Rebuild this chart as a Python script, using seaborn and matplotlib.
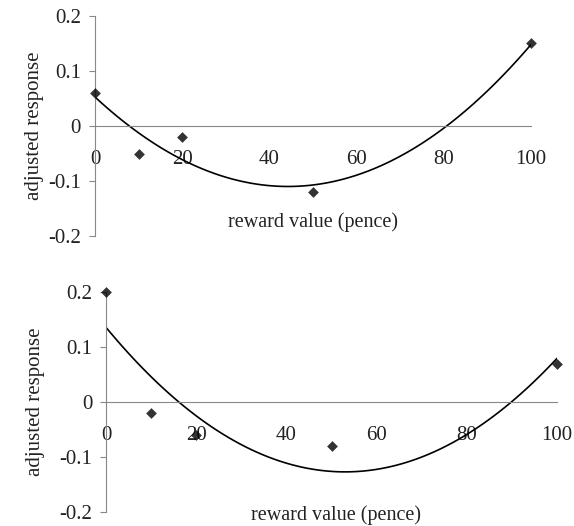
import matplotlib
matplotlib.use("Agg")
import matplotlib.pyplot as plt
import seaborn as sns

# Data
reward = [0, 10, 20, 50, 100]
response_top = [0.06, -0.05, -0.02, -0.12, 0.15]
response_bottom = [0.2, -0.02, -0.06, -0.08, 0.07]
y_ticks = [-0.2, -0.1, 0, 0.1, 0.2]
y_ticklabels = ["-0.2", "-0.1", "0", "0.1", "0.2"]
x_ticks = [0, 20, 40, 60, 80, 100]

sns.set_style("white")
plt.rcParams['font.family'] = ['Liberation Serif', 'DejaVu Serif']

fig = plt.figure(figsize=(5.74, 5.26), dpi=100)
ax1 = fig.add_axes([0.1655, 0.5513, 0.7596, 0.4183])
ax2 = fig.add_axes([0.1847, 0.0265, 0.7857, 0.4183])


def draw_panel(ax, y, label_xy, ypad):
    sns.regplot(x=reward, y=y, order=2, ci=None, ax=ax, marker='D',
                scatter_kws=dict(color='black', s=30, zorder=3, linewidths=0, clip_on=False),
                line_kws=dict(color='black', lw=1.2))
    ax.set_xlim(0, 100)
    ax.set_ylim(-0.2, 0.2)
    ax.set_yticks(y_ticks)
    ax.set_yticklabels(y_ticklabels)
    ax.set_xticks(x_ticks)
    ax.spines['top'].set_visible(False)
    ax.spines['right'].set_visible(False)
    ax.spines['bottom'].set_position(('data', 0))
    for s in ('left', 'bottom'):
        ax.spines[s].set_color('#888888')
        ax.spines[s].set_linewidth(0.8)
    ax.tick_params(axis='x', direction='in', length=5, width=0.8, color='#888888',
                   pad=17, labelsize=15, labelcolor='#222222')
    ax.tick_params(axis='y', direction='out', length=4, width=0.8, color='#888888',
                   pad=6, labelsize=15, labelcolor='#222222', left=True)
    ax.set_xlabel('')
    ax.set_ylabel('adjusted response', fontsize=15, color='#222222', labelpad=ypad)
    ax.text(label_xy[0], label_xy[1], 'reward value (pence)', ha='center', va='center',
            fontsize=14.5, color='#222222', clip_on=False)
    ax.patch.set_alpha(0)


draw_panel(ax1, response_top, (50, -0.175), 3)
draw_panel(ax2, response_bottom, (51, -0.205), 10)

fig.savefig('out.png', dpi=100)
